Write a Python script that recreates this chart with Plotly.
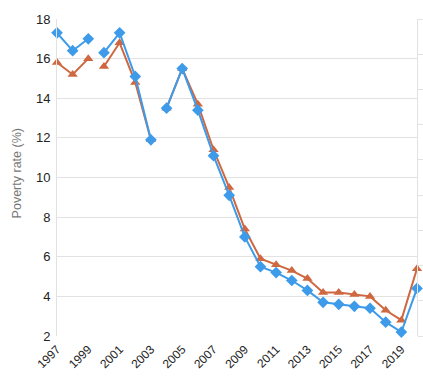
import plotly.graph_objects as go

years = list(range(1997, 2021))
blue_vals = [17.3, 16.4, 17.0, 16.3, 17.3, 15.1, 11.9, 13.5, 15.5, 13.4, 11.1, 9.1,
             7.0, 5.5, 5.2, 4.8, 4.3, 3.7, 3.6, 3.5, 3.4, 2.7, 2.2, 4.4]
orange_vals = [15.8, 15.2, 16.0, 15.6, 16.8, 14.8, 11.9, 13.5, 15.5, 13.7, 11.4, 9.5,
               7.4, 5.9, 5.6, 5.3, 4.9, 4.2, 4.2, 4.1, 4.0, 3.3, 2.8, 5.4]
breaks_after = [1999, 2003]
tick_years = list(range(1997, 2020, 2))
y_title = "Poverty rate (%)"

BLUE = "#3d9be9"
ORANGE = "#cf6840"


def with_breaks(xs, ys):
    ox, oy = [], []
    for x, y in zip(xs, ys):
        ox.append(x)
        oy.append(y)
        if x in breaks_after:
            ox.append(x + 0.5)
            oy.append(None)
    return ox, oy


fig = go.Figure()
ox, oy = with_breaks(years, orange_vals)
fig.add_trace(go.Scatter(x=ox, y=oy, mode="lines+markers", connectgaps=False,
                         line=dict(color=ORANGE, width=2),
                         marker=dict(symbol="triangle-up", size=9, color=ORANGE),
                         cliponaxis=False, showlegend=False))
bx, by = with_breaks(years, blue_vals)
fig.add_trace(go.Scatter(x=bx, y=by, mode="lines+markers", connectgaps=False,
                         line=dict(color=BLUE, width=2),
                         marker=dict(symbol="diamond", size=9, color=BLUE),
                         cliponaxis=False, showlegend=False))
# invisible trace to anchor the right-hand axis
fig.add_trace(go.Scatter(x=[years[0]], y=[0], yaxis="y2", mode="markers",
                         marker=dict(opacity=0), showlegend=False, hoverinfo="skip"))

fig.update_layout(
    width=423, height=376,
    margin=dict(l=57, r=6, t=19, b=40, autoexpand=False),
    paper_bgcolor="white", plot_bgcolor="white",
    font=dict(family="Liberation Sans, Arial, sans-serif", size=12, color="#333333"),
    xaxis=dict(range=[years[0], years[-1]], tickvals=tick_years,
               ticktext=[str(y) for y in tick_years], tickangle=-45,
               showgrid=False, zeroline=False, showline=False, ticks="",
               automargin=False, ticklabelstandoff=3,
               tickfont=dict(size=12, color="#222222")),
    yaxis=dict(range=[2, 18], dtick=2, showgrid=True, gridcolor="#e2e2e2",
               gridwidth=1, zeroline=False, showline=True, linecolor="#e2e2e2",
               linewidth=1, ticks="", automargin=False, ticklabelstandoff=3,
               tickfont=dict(size=13, color="#222222")),
    yaxis2=dict(overlaying="y", side="right", range=[0, 9], dtick=1,
                showticklabels=False, showgrid=False, zeroline=False,
                showline=True, linecolor="#e2e2e2", linewidth=1, automargin=False,
                ticks="outside", ticklen=6, tickcolor="#e2e2e2"),
    annotations=[dict(text=y_title, textangle=-90, xref="paper", yref="paper",
                      x=(17 - 57) / 360, y=0.513, xanchor="center", yanchor="middle",
                      showarrow=False, font=dict(size=12.5, color="#777777"))],
)

fig.write_html("out.html", config={"displayModeBar": False},
               post_script="document.body.style.margin='0';")
